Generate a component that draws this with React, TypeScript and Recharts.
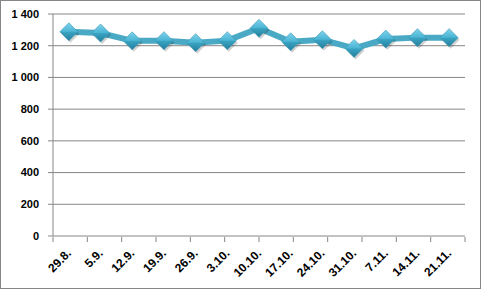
import { LineChart, Line, XAxis, YAxis, CartesianGrid } from 'recharts';

const dates = ['29.8.', '5.9.', '12.9.', '19.9.', '26.9.', '3.10.', '10.10.', '17.10.', '24.10.', '31.10.', '7.11.', '14.11.', '21.11.'];
const values = [1288, 1280, 1231, 1232, 1219, 1232, 1310, 1225, 1238, 1183, 1242, 1251, 1251];
const yTicks = [0, 200, 400, 600, 800, 1000, 1200, 1400];
const boundaries = Array.from({ length: dates.length + 1 }, (_, i) => i);

const data = dates.map((d, i) => ({ date: d, value: values[i] }));

const fmt = (v: number) => (v >= 1000 ? `${Math.floor(v / 1000)} ${String(v % 1000).padStart(3, '0')}` : String(v));

function Diamond(props: any) {
  const { cx, cy } = props;
  if (cx == null || cy == null) return null;
  const r = 9;
  return (
    <g>
      <polygon
        points={`${cx + 1.5},${cy - r + 2} ${cx + r + 1.5},${cy + 2} ${cx + 1.5},${cy + r + 2} ${cx - r + 1.5},${cy + 2}`}
        fill="rgba(0,0,0,0.18)"
      />
      <polygon points={`${cx},${cy - r} ${cx + r},${cy} ${cx},${cy + r} ${cx - r},${cy}`} fill="url(#dia)" stroke="#3a97b3" strokeWidth={0.6} />
    </g>
  );
}

function DateTick(props: any) {
  const { x, y, payload } = props;
  return (
    <text
      transform={`translate(${x + 3},${y + 10}) rotate(-45)`}
      textAnchor="end"
      fontSize={12}
      fontWeight="bold"
      fill="#000"
      fontFamily="Liberation Sans, Arial, sans-serif"
    >
      {payload.value}
    </text>
  );
}

export default function App() {
  return (
    <div style={{ position: 'absolute', left: 0, top: 0, width: 481, height: 289, boxSizing: 'border-box', border: '1px solid #868686', background: '#fff' }}>
      <LineChart width={479} height={287} data={data} margin={{ top: 13, right: 15, bottom: 0, left: 0 }}>
        <defs>
          <linearGradient id="dia" x1="0" y1="0" x2="0" y2="1">
            <stop offset="0%" stopColor="#7fd3ec" />
            <stop offset="48%" stopColor="#4bb5d4" />
            <stop offset="52%" stopColor="#3aa3c2" />
            <stop offset="100%" stopColor="#237f9c" />
          </linearGradient>
        </defs>
        <CartesianGrid vertical={false} stroke="#868686" strokeWidth={1} />
        <XAxis
          dataKey="date"
          scale="band"
          interval={0}
          height={1}
          tickLine={false}
          axisLine={false}
          tick={<DateTick />}
        />
        <XAxis
          xAxisId="b"
          type="number"
          domain={[0, dates.length]}
          ticks={boundaries}
          allowDataOverflow
          height={51}
          tickSize={5}
          axisLine={false}
          tickFormatter={() => ''}
          stroke="#868686"
        />
        <YAxis
          domain={[0, 1400]}
          ticks={yTicks}
          width={52}
          tickSize={5}
          tickMargin={9}
          tickFormatter={fmt}
          stroke="#868686"
          tick={{ fontSize: 11, fontWeight: 'bold', fill: '#000', fontFamily: 'Liberation Sans, Arial, sans-serif' }}
        />
        <Line
          dataKey="value"
          stroke="#4aaac5"
          strokeWidth={6}
          dot={<Diamond />}
          activeDot={false}
          isAnimationActive={false}
        />
      </LineChart>
    </div>
  );
}
